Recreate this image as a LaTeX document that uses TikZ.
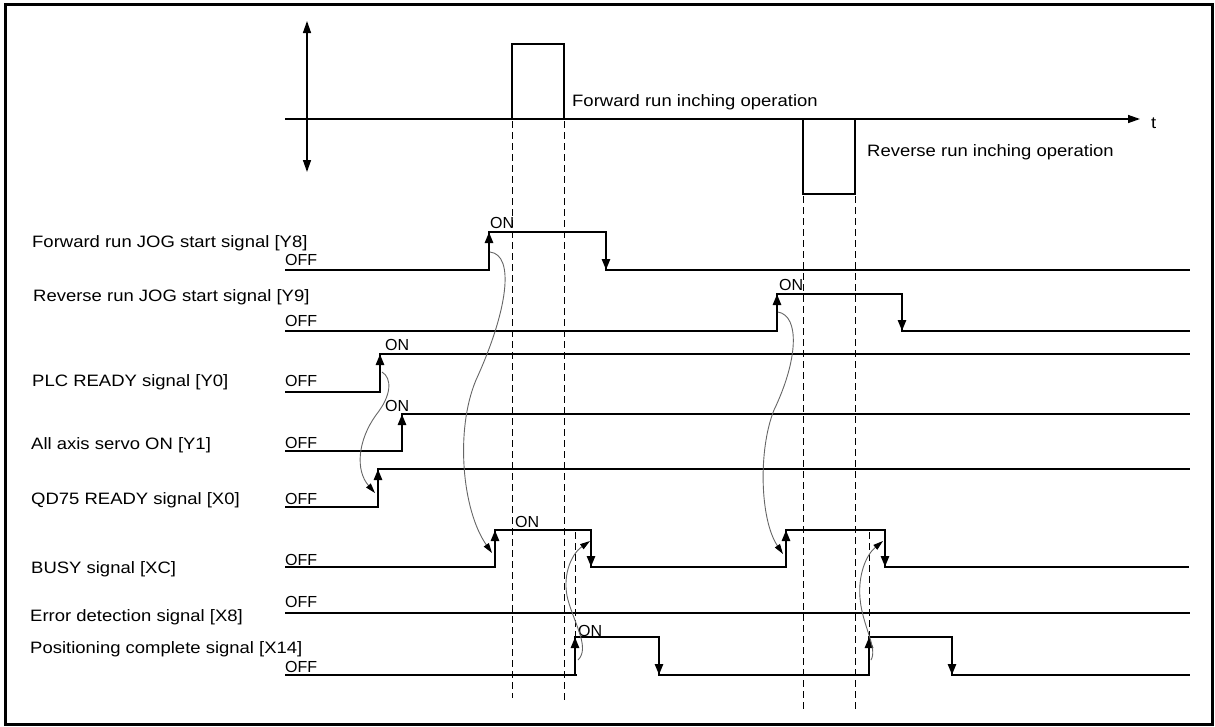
\documentclass[tikz,border=0pt]{standalone}
\usepackage{fontspec}
\setmainfont[FakeStretch=1.12]{Liberation Sans}
\newfontfamily\levelfont{Liberation Sans}
\usetikzlibrary{arrows.meta}

\begin{document}
\begin{tikzpicture}[x=1pt, y=-1pt,
      frame/.style={line width=3pt},
      axis/.style={line width=1.4pt},
      pulse/.style={line width=2.5pt},
      sig/.style={line width=2.5pt},
      edge/.style={line width=2.5pt, -{Triangle[length=11pt, width=8pt]}},
      guide/.style={line width=1pt, dash pattern=on 7pt off 4pt},
      cause/.style={line width=0.9pt, draw=black!60, -{Triangle[length=10pt, width=6pt, fill=black, color=black]}},
      lbl/.style={anchor=base west, inner sep=0pt, font=\fontsize{16.5}{18}\selectfont},
      lvl/.style={anchor=base west, inner sep=0pt, font=\levelfont\fontsize{16}{18}\selectfont}
    ]
      \useasboundingbox (0,0) rectangle (1215,726);
      \draw[frame] (5.5,4.5) rectangle (1212,724.5);

      % Top: inching operation
      \draw[axis, {Triangle[length=12pt, width=8pt]}-{Triangle[length=12pt, width=8pt]}] (307,21) -- (307,172);
      \draw[axis, -{Triangle[length=12pt, width=8pt]}] (285,119) -- (1140,119);
      \node[lbl] (t) at (1151,128) {t};
      \draw[pulse] (512,119) -- (512,44) -- (564,44) -- (564,119);
      \draw[pulse] (803,119) -- (803,194) -- (855,194) -- (855,119);
      \node[lbl] (fwdop) at (572,106) {Forward run inching operation};
      \node[lbl] (revop) at (867,156) {Reverse run inching operation};

      % Guides
      \draw[guide] (512,121) -- (512,698);
      \draw[guide] (564,121) -- (564,702);
      \draw[guide] (803,196) -- (803,710);
      \draw[guide] (855,196) -- (855,710);
      \draw[guide] (575,532) -- (575,640);
      \draw[guide] (869,532) -- (869,640);

      % Signal names
      \node[lbl] (nY8) at (32,247) {Forward run JOG start signal [Y8]};
      \node[lbl] (nY9) at (33,301) {Reverse run JOG start signal [Y9]};
      \node[lbl] (nY0) at (32,386) {PLC READY signal [Y0]};
      \node[lbl] (nY1) at (31,449) {All axis servo ON [Y1]};
      \node[lbl] (nX0) at (31,504) {QD75 READY signal [X0]};
      \node[lbl] (nXC) at (31,573) {BUSY signal [XC]};
      \node[lbl] (nX8) at (30,621) {Error detection signal [X8]};
      \node[lbl] (nX14) at (30,653) {Positioning complete signal [X14]};

      % OFF / ON levels
      \node[lvl] (offY8) at (285,265) {OFF};
      \node[lvl] (offY9) at (285,326) {OFF};
      \node[lvl] (offY0) at (285,386) {OFF};
      \node[lvl] (offY1) at (285,448) {OFF};
      \node[lvl] (offX0) at (285,504) {OFF};
      \node[lvl] (offXC) at (285,565) {OFF};
      \node[lvl] (offX8) at (285,607) {OFF};
      \node[lvl] (offX14) at (285,672) {OFF};
      \node[lvl] (onY8) at (490,228) {ON};
      \node[lvl] (onY9) at (779,290) {ON};
      \node[lvl] (onY0) at (385,350) {ON};
      \node[lvl] (onY1) at (385,411) {ON};
      \node[lvl] (onXC) at (515,527) {ON};
      \node[lvl] (onX14) at (578,636) {ON};

      % Waveforms
      \draw[sig] (285,270) -- (489,270) -- (489,232) -- (606,232) -- (606,270) -- (1190,270);
      \draw[edge] (489,270) -- (489,232);
      \draw[edge] (606,232) -- (606,270);

      \draw[sig] (285,331) -- (777,331) -- (777,294) -- (902,294) -- (902,331) -- (1190,331);
      \draw[edge] (777,331) -- (777,294);
      \draw[edge] (902,294) -- (902,331);

      \draw[sig] (285,392) -- (380,392) -- (380,354) -- (1190,354);
      \draw[edge] (380,392) -- (380,354);

      \draw[sig] (285,451) -- (402,451) -- (402,414) -- (1190,414);
      \draw[edge] (402,451) -- (402,414);

      \draw[sig] (285,507) -- (378,507) -- (378,469) -- (1190,469);
      \draw[edge] (378,507) -- (378,469);

      \draw[sig] (285,567) -- (495,567) -- (495,530) -- (591,530) -- (591,567) -- (786,567) -- (786,530) -- (885,530) -- (885,567) -- (1189,567);
      \draw[edge] (495,567) -- (495,530);
      \draw[edge] (591,530) -- (591,567);
      \draw[edge] (786,567) -- (786,530);
      \draw[edge] (885,530) -- (885,567);

      \draw[sig] (285,613) -- (1190,613);

      \draw[sig] (285,675) -- (577,675);
      \draw[sig] (575,675) -- (575,637) -- (659,637) -- (659,675) -- (869,675) -- (869,637) -- (952,637) -- (952,675) -- (1190,675);
      \draw[edge] (575,675) -- (575,637);
      \draw[edge] (659,637) -- (659,675);
      \draw[edge] (869,675) -- (869,637);
      \draw[edge] (952,637) -- (952,675);

      % Cause arrows
      \coordinate (y8up) at (490,252);
      \coordinate (y9up) at (778,312);
      \coordinate (y0up) at (382,372);
      \coordinate (x14up) at (578,660);
      \coordinate (x14upb) at (871,660);
      \coordinate (xcup) at (492,553);
      \coordinate (xcupb) at (783,554);
      \coordinate (x0up) at (375,493);
      \coordinate (xcdown) at (590,541);
      \coordinate (xcdownb) at (883,541);

      \draw[cause] (y8up) .. controls (515,255) and (508,310) .. (476,380) .. controls (455,430) and (462,510) .. (xcup);
      \draw[cause] (y9up) .. controls (800,316) and (798,360) .. (774,410) .. controls (758,450) and (760,520) .. (xcupb);
      \draw[cause] (y0up) .. controls (392,378) and (392,395) .. (376,415) .. controls (358,440) and (355,470) .. (x0up);
      \draw[cause] (x14up) .. controls (590,648) and (575,625) .. (568,600) .. controls (562,578) and (570,555) .. (xcdown);
      \draw[cause] (x14upb) .. controls (878,648) and (862,625) .. (860,598) .. controls (858,575) and (866,555) .. (xcdownb);
    \end{tikzpicture}
\end{document}
